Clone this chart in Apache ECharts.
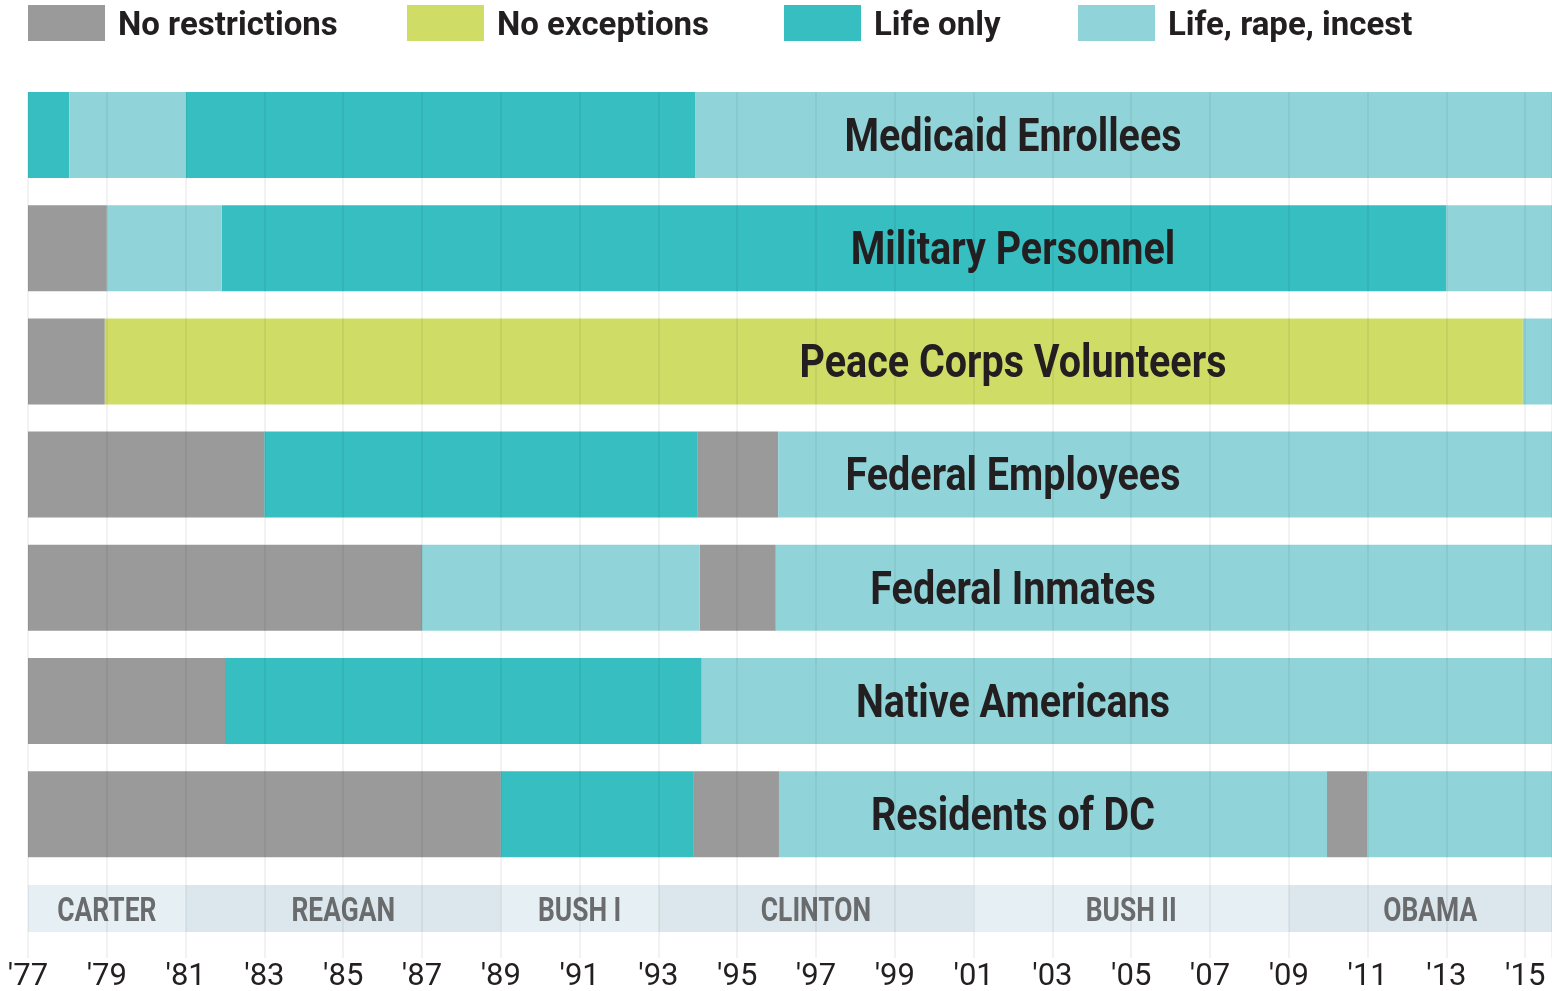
<!DOCTYPE html>
<html><head><meta charset="utf-8">
<script src="https://cdn.jsdelivr.net/npm/echarts@6/dist/echarts.min.js"></script>
<style>html,body{margin:0;padding:0;background:#fff}#c{width:1552px;height:991px}</style>
</head><body><div id="c"></div>
<script>
// ---- data ----
const policies = ['No restrictions', 'No exceptions', 'Life only', 'Life, rape, incest'];
const policyColors = ['#999a99', '#cfdd66', '#36bec1', '#90d4d9'];
const rows = ['Medicaid Enrollees', 'Military Personnel', 'Peace Corps Volunteers', 'Federal Employees', 'Federal Inmates', 'Native Americans', 'Residents of DC'];
// year each policy starts, and policy index (0..3) per row
const medicaidYears = [1977, 1978.05, 1981, 1993.93];
const medicaidPolicy = [2, 3, 2, 3];
const militaryYears = [1977, 1979, 1981.92, 2013];
const militaryPolicy = [0, 3, 2, 3];
const peaceCorpsYears = [1977, 1978.95, 2014.94];
const peaceCorpsPolicy = [0, 1, 3];
const fedEmployeesYears = [1977, 1983, 1994, 1996.04];
const fedEmployeesPolicy = [0, 2, 0, 3];
const fedInmatesYears = [1977, 1987, 1994.05, 1995.98];
const fedInmatesPolicy = [0, 3, 0, 3];
const nativeYears = [1977, 1982, 1994.1];
const nativePolicy = [0, 2, 3];
const dcYears = [1977, 1989, 1993.9, 1996.06, 2009.97, 2011];
const dcPolicy = [0, 2, 0, 3, 0, 3];
const presidents = ['CARTER', 'REAGAN', 'BUSH I', 'CLINTON', 'BUSH II', 'OBAMA'];
const presStart = [1977, 1981, 1989, 1993, 2001, 2009];
const presEnd = [1981, 1989, 1993, 2001, 2009, 2017];
const presColors = ['#e6eff4', '#dbe7ed'];
const startYear = 1977;
const endYear = 2015.68;
const labelYear = 2002;

const rowYears = [medicaidYears, militaryYears, peaceCorpsYears, fedEmployeesYears, fedInmatesYears, nativeYears, dcYears];
const rowPolicies = [medicaidPolicy, militaryPolicy, peaceCorpsPolicy, fedEmployeesPolicy, fedInmatesPolicy, nativePolicy, dcPolicy];

const FONT = 'Roboto';
const segData = policies.map(() => []);
rowYears.forEach((ys, r) => {
  ys.forEach((y, i) => {
    const e = i + 1 < ys.length ? ys[i + 1] : endYear;
    segData[rowPolicies[r][i]].push([y, e, r]);
  });
});

function clip(rect, cs) {
  return echarts.graphic.clipRectByRect(rect, {x: cs.x, y: cs.y, width: cs.width, height: cs.height});
}
function renderSeg(params, api) {
  const s = api.coord([api.value(0), api.value(2)]);
  const e = api.coord([api.value(1), api.value(2)]);
  const h = api.size([0, 1])[1] * 0.76;
  const shape = clip({x: s[0], y: s[1] - h / 2, width: e[0] - s[0], height: h}, params.coordSys);
  return shape && {type: 'rect', shape: shape, style: api.style()};
}

const series = policies.map((p, i) => ({
  name: p, type: 'custom', xAxisIndex: 0, yAxisIndex: 0,
  itemStyle: {color: policyColors[i]},
  renderItem: renderSeg,
  encode: {x: [0, 1], y: 2},
  data: segData[i]
}));

series.push({
  type: 'custom', xAxisIndex: 0, yAxisIndex: 0, z: 20, silent: true,
  renderItem: (params, api) => {
    const c = api.coord([api.value(0), api.value(1)]);
    return {type: 'text', x: c[0], y: c[1] + 4, scaleX: 0.84, style: {
      text: rows[api.value(1)], fill: '#231f20', align: 'center', verticalAlign: 'middle',
      font: 'bold 47px ' + FONT}};
  },
  data: rows.map((r, i) => [labelYear, i])
});

series.push({
  type: 'custom', xAxisIndex: 1, yAxisIndex: 1, z: 1, silent: true,
  renderItem: (params, api) => {
    const i = params.dataIndex;
    const s = api.coord([api.value(0), 0]);
    const e = api.coord([api.value(1), 0]);
    const cs = params.coordSys;
    const shape = clip({x: s[0], y: cs.y, width: e[0] - s[0], height: cs.height}, cs);
    const visEnd = Math.min(api.value(1), endYear + 0.5);
    const m = api.coord([(api.value(0) + visEnd) / 2, 0]);
    return {type: 'group', children: [
      {type: 'rect', shape: shape, style: {fill: presColors[i % 2]}},
      {type: 'text', x: m[0], y: cs.y + cs.height / 2 + 4, scaleX: 0.8, style: {
        text: presidents[i], fill: '#6a6b6d', align: 'center', verticalAlign: 'middle',
        font: 'bold 33px ' + FONT}}
    ]};
  },
  encode: {x: [0, 1], y: 2},
  data: presidents.map((p, i) => [presStart[i], presEnd[i], 0])
});

const legendLefts = [28, 407, 784, 1078];
const legends = policies.map((p, i) => ({
  data: [p], left: legendLefts[i], top: 5, padding: 0, itemWidth: 77, itemHeight: 36,
  icon: 'rect', selectedMode: false,
  formatter: n => '{t|' + n + '}',
  textStyle: {rich: {t: {fontFamily: FONT, fontWeight: 'bold', fontSize: 33, color: '#231f20', padding: [7, 0, 0, 8]}}}
}));

const option = {
  animation: false,
  backgroundColor: '#ffffff',
  legend: legends,
  grid: [
    {left: 28, width: 1524, top: 78.4, height: 792.4, outerBoundsMode: 'none'},
    {left: 28, width: 1524, top: 885, height: 47, outerBoundsMode: 'none'},
    {left: 28, width: 1524, top: 92, height: 866, outerBoundsMode: 'none', containLabel: false}
  ],
  xAxis: [
    {type: 'value', gridIndex: 0, min: startYear, max: endYear, show: false},
    {type: 'value', gridIndex: 1, min: startYear, max: endYear, show: false},
    {type: 'value', gridIndex: 2, min: startYear, max: endYear, interval: 2, z: 10,
      axisLine: {show: false}, axisTick: {show: false},
      splitLine: {show: true, lineStyle: {color: 'rgba(0,0,0,0.07)', width: 1.5}},
      axisLabel: {show: true, showMaxLabel: false, margin: 6, fontFamily: FONT, fontSize: 31, lineHeight: 26, color: '#231f20',
        formatter: v => Number.isInteger(v) ? "'" + String(v).slice(2) : ''}}
  ],
  yAxis: [
    {type: 'category', gridIndex: 0, data: rows, inverse: true, show: false},
    {type: 'category', gridIndex: 1, data: ['p'], show: false},
    {type: 'value', gridIndex: 2, show: false}
  ],
  series: series
};
echarts.init(document.getElementById('c')).setOption(option);
</script></body></html>
